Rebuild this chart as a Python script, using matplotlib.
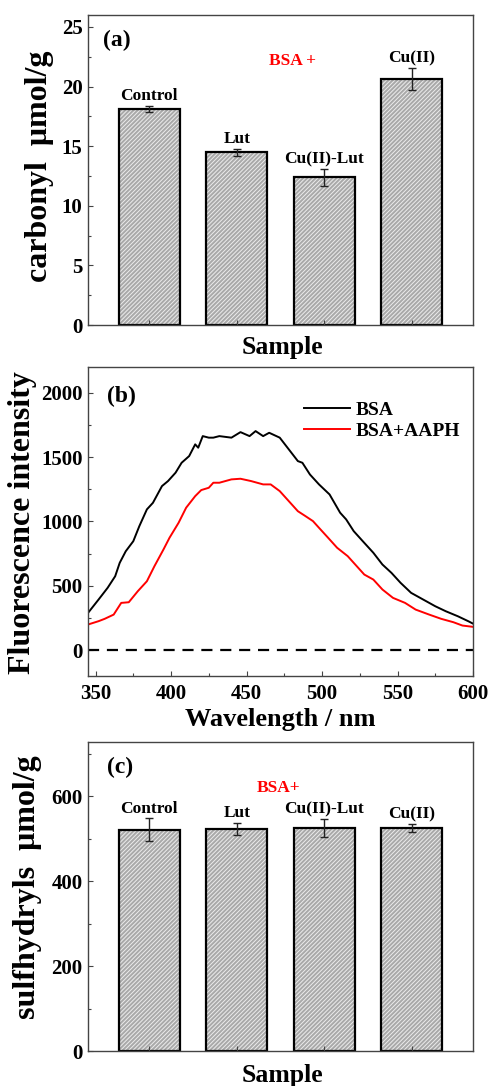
import numpy as np
import matplotlib
matplotlib.use('Agg')
import matplotlib.pyplot as plt
import matplotlib.ticker as mticker

plt.rcParams['font.family'] = ['Liberation Serif', 'DejaVu Serif']
plt.rcParams['font.weight'] = 'bold'
plt.rcParams['hatch.linewidth'] = 0.7

# Panel (a) - carbonyl content
samples = ['Control', 'Lut', 'Cu(II)-Lut', 'Cu(II)']
carbonyl = [18.1, 14.5, 12.4, 20.6]
carbonyl_err = [0.25, 0.3, 0.7, 0.93]

# Panel (b) - fluorescence spectra
bsa_wl = [345, 352, 358, 363, 366, 370, 375, 379, 384, 388, 394, 398, 403, 407,
          412, 416, 418, 421, 425, 428, 432, 440, 446, 452, 456, 461, 465, 472,
          478, 484, 487, 492, 498, 505, 512, 516, 521, 527, 534, 540, 546, 552,
          559, 567, 575, 582, 590, 597, 600]
bsa_int = [290, 394, 485, 575, 679, 769, 847, 964, 1094, 1145, 1275, 1314, 1379,
           1456, 1508, 1599, 1573, 1663, 1651, 1651, 1663, 1651, 1694, 1663, 1702,
           1663, 1689, 1651, 1560, 1469, 1456, 1365, 1288, 1210, 1068, 1016, 925,
           847, 757, 666, 601, 524, 446, 394, 342, 303, 264, 225, 207]
aaph_wl = [345, 352, 356, 362, 367, 372, 378, 384, 389, 395, 399, 405, 410, 416,
           420, 425, 428, 432, 440, 446, 453, 461, 466, 472, 478, 484, 489, 494,
           498, 504, 510, 517, 523, 528, 534, 540, 547, 555, 562, 571, 579, 587,
           593, 600]
aaph_int = [200, 226, 244, 277, 368, 373, 459, 536, 653, 783, 874, 990, 1107, 1197,
            1244, 1262, 1301, 1301, 1327, 1332, 1314, 1288, 1288, 1236, 1158, 1080,
            1042, 1003, 951, 874, 796, 731, 653, 588, 549, 472, 407, 368, 316, 277,
            244, 218, 192, 182]

# Panel (c) - sulfhydryl content
sulfhydryl = [521, 523, 525, 525]
sulfhydryl_err = [27, 15, 21, 9]

spine_colour = '#444444'


def style_axis(ax):
    '''
    Common frame and tick styling used on every panel
    '''
    for sp in ax.spines.values():
        sp.set_color(spine_colour)
        sp.set_linewidth(1.0)
    ax.tick_params(which='both', direction='in', top=False, right=False,
                   colors=spine_colour, labelcolor='black', labelsize=15,
                   width=0.8, pad=4)
    ax.tick_params(which='major', length=3.5)
    ax.tick_params(which='minor', length=2)


def bar_panel(ax, values, errors, ylim, major, minor, ylabel, letter,
              ylab_pos, red_pos, red_text):
    '''
    Hatched bar chart with error bars and labels above each bar
    '''
    x = np.arange(1, len(values) + 1)
    # grey face with white hatch, black outline drawn on top
    ax.bar(x, values, width=0.7, color='#a9a9a9', edgecolor='#ececec',
           hatch='////////', linewidth=0)
    ax.bar(x, values, width=0.7, fill=False, edgecolor='black', linewidth=1.6)
    ax.errorbar(x, values, yerr=errors, fmt='none', ecolor='#222222',
                elinewidth=1, capsize=3, capthick=1)
    for xi, v, e, lab in zip(x, values, errors, samples):
        ax.annotate(lab, (xi, v + e), xytext=(0, 7), textcoords='offset points',
                    ha='center', va='center', fontsize=12.5, fontweight='bold')

    ax.set_xlim(0.3, len(values) + 0.7)
    ax.set_ylim(*ylim)
    ax.set_xticks(x)
    ax.set_xticklabels([])
    ax.yaxis.set_major_locator(mticker.MultipleLocator(major))
    ax.yaxis.set_minor_locator(mticker.MultipleLocator(minor))
    style_axis(ax)

    ax.set_ylabel(ylabel, fontsize=23, fontweight='bold')
    ax.yaxis.label.set_va('center')
    ax.yaxis.set_label_coords(*ylab_pos)
    ax.set_xlabel('Sample', fontsize=18.5, fontweight='bold')
    ax.xaxis.label.set_va('center')
    ax.xaxis.set_label_coords(0.504, -0.072)

    ax.text(*letter[1], letter[0], transform=ax.transAxes, fontsize=17,
            fontweight='bold', ha='center', va='center')
    ax.text(*red_pos, red_text, transform=ax.transAxes, fontsize=12.5,
            fontweight='bold', color='red', ha='center', va='center')


def spectra_panel(ax):
    '''
    Fluorescence emission spectra of BSA with and without AAPH
    '''
    ax.plot(bsa_wl, bsa_int, color='black', lw=1.4, label='BSA')
    ax.plot(aaph_wl, aaph_int, color='red', lw=1.4, label='BSA+AAPH')
    ax.axhline(0, color='black', lw=1.6, dashes=(5, 3.5))

    ax.set_xlim(345, 600)
    ax.set_ylim(-200, 2200)
    ax.xaxis.set_major_locator(mticker.MultipleLocator(50))
    ax.xaxis.set_minor_locator(mticker.MultipleLocator(25))
    ax.yaxis.set_major_locator(mticker.MultipleLocator(500))
    ax.yaxis.set_minor_locator(mticker.MultipleLocator(250))
    style_axis(ax)
    ax.tick_params(axis='x', pad=6)

    ax.set_ylabel('Fluorescence intensity', fontsize=23, fontweight='bold')
    ax.yaxis.label.set_va('center')
    ax.yaxis.set_label_coords(-0.17, 0.498)
    ax.set_xlabel('Wavelength / nm', fontsize=19, fontweight='bold')
    ax.xaxis.label.set_va('center')
    ax.xaxis.set_label_coords(0.5, -0.14)

    ax.legend(loc='upper left', bbox_to_anchor=(0.56, 0.89), frameon=False,
              fontsize=14, handlelength=2.4, handletextpad=0.3,
              labelspacing=0.2, borderpad=0, borderaxespad=0)
    ax.text(0.086, 0.906, '(b)', transform=ax.transAxes, fontsize=17,
            fontweight='bold', ha='center', va='center')


fig = plt.figure(figsize=(4.9, 10.86), dpi=100)
ax_a = fig.add_axes([0.1796, 0.7007, 0.7857, 0.2855])
ax_b = fig.add_axes([0.1796, 0.3775, 0.7857, 0.2846])
ax_c = fig.add_axes([0.1796, 0.0322, 0.7857, 0.2846])

bar_panel(ax_a, carbonyl, carbonyl_err, (0, 26), 5, 2.5,
          'carbonyl  μmol/g', ('(a)', (0.075, 0.919)), (-0.125, 0.513),
          (0.532, 0.852), 'BSA +')
spectra_panel(ax_b)
bar_panel(ax_c, sulfhydryl, sulfhydryl_err, (0, 728), 200, 100,
          'sulfhydryls  μmol/g', ('(c)', (0.083, 0.916)), (-0.156, 0.53),
          (0.494, 0.851), 'BSA+')
ax_c.xaxis.set_label_coords(0.504, -0.078)

fig.savefig('out.png', dpi=100, facecolor='white')
